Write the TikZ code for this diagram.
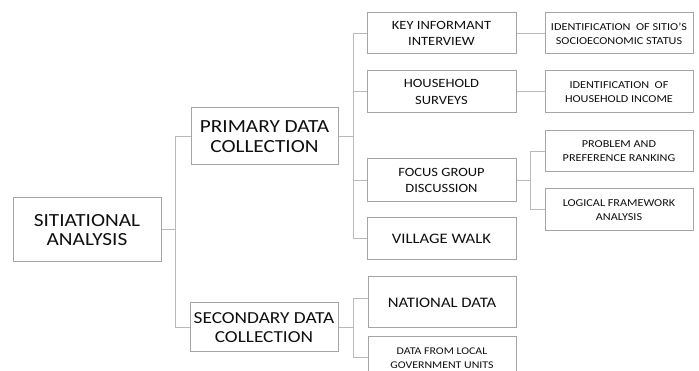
\documentclass[tikz,border=0pt]{standalone}
\usepackage{fontspec}
\setmainfont{Carlito}[FakeStretch=1.15]
\definecolor{boxline}{RGB}{165,165,165}
\definecolor{conn}{RGB}{185,185,185}
\definecolor{txt}{RGB}{15,15,15}
\begin{document}
\begin{tikzpicture}[x=1pt,y=-1pt,
  box/.style={draw=boxline,line width=1pt,fill=white,align=center,text=txt,inner sep=0pt},
  big/.style={font=\fontsize{18.5}{19.5}\selectfont},
  mid/.style={font=\fontsize{12.6}{16.5}\selectfont},
  midb/.style={font=\fontsize{14.5}{16.5}\selectfont},
  sml/.style={font=\fontsize{10.6}{14}\selectfont},
  link/.style={draw=conn,line width=1pt}]
\useasboundingbox (0,0) rectangle (699,371);
\clip (0,0) rectangle (699,371);
\node[box,big,minimum width=148pt,minimum height=64pt] (SA) at (87,230) {SITIATIONAL\\ANALYSIS};
\node[box,big,minimum width=147pt,minimum height=57pt] (PDC) at (264.5,136.5) {PRIMARY DATA\\COLLECTION};
\node[box,font=\fontsize{16.8}{19.5}\selectfont,minimum width=148pt,minimum height=49pt] (SDC) at (264,327.5) {SECONDARY DATA\\COLLECTION};
\node[box,mid,minimum width=149pt,minimum height=41pt] (KII) at (441.5,33.5) {KEY INFORMANT\\INTERVIEW};
\node[box,mid,minimum width=149pt,minimum height=42pt] (HS) at (441.5,92) {HOUSEHOLD\\SURVEYS};
\node[box,mid,minimum width=149pt,minimum height=43pt] (FGD) at (441.5,180.5) {FOCUS GROUP\\DISCUSSION};
\node[box,midb,minimum width=149pt,minimum height=42pt] (VW) at (441.5,239) {VILLAGE WALK};
\node[box,midb,minimum width=148pt,minimum height=51pt] (ND) at (442,302.5) {NATIONAL DATA};
\node[box,sml,font=\fontsize{10.3}{14}\selectfont,minimum width=148pt,minimum height=42pt] (DFL) at (442,358) {DATA FROM LOCAL\\GOVERNMENT UNITS};
\node[box,sml,minimum width=148pt,minimum height=41pt] (IDS) at (619,33.5) {IDENTIFICATION\ \ OF SITIO’S\\SOCIOECONOMIC STATUS};
\node[box,sml,minimum width=148pt,minimum height=42pt] (IDH) at (619,92) {IDENTIFICATION\ \ OF\\HOUSEHOLD INCOME};
\node[box,sml,minimum width=148pt,minimum height=41pt] (PPR) at (619,151.5) {PROBLEM AND\\PREFERENCE RANKING};
\node[box,sml,minimum width=148pt,minimum height=42pt] (LFA) at (619,210) {LOGICAL FRAMEWORK\\ANALYSIS};
% connectors
\coordinate (j1) at (175,230);
\coordinate (j2) at (353,136.5);
\coordinate (j3) at (353,327.5);
\coordinate (j4) at (530,180.5);
\draw[link] (SA.east) -- (j1);
\draw[link] (j1) |- (PDC.west);
\draw[link] (j1) |- (SDC.west);
\draw[link] (PDC.east) -- (j2);
\draw[link] (j2) |- (KII.west);
\draw[link] (j2) |- (HS.west);
\draw[link] (j2) |- (FGD.west);
\draw[link] (j2) |- (VW.west);
\draw[link] (SDC.east) -- (j3);
\draw[link] (j3) |- ([yshift=4pt]ND.west);
\draw[link] (j3) |- (DFL.west);
\draw[link] (FGD.east) -- (j4);
\draw[link] (j4) |- (PPR.west);
\draw[link] (j4) |- (LFA.west);
\draw[link] (KII.east) -- (IDS.west);
\draw[link] (HS.east) -- (IDH.west);
\end{tikzpicture}
\end{document}
